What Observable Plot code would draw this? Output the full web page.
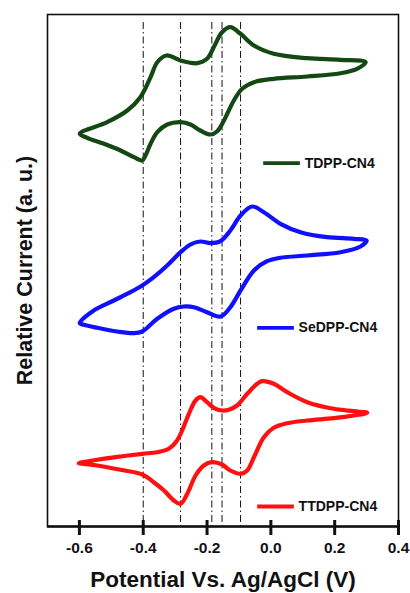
<!DOCTYPE html>
<html>
<head>
<meta charset="utf-8">
<script src="https://cdn.jsdelivr.net/npm/d3@7"></script>
<script src="https://cdn.jsdelivr.net/npm/@observablehq/plot@0.6"></script>
<style>
  html, body { margin: 0; padding: 0; background: #fff; }
  #chart { width: 410px; height: 593px; }
</style>
</head>
<body>
<div id="chart"></div>
<script>
// Potential (V) and relative current (a.u.) traced around each closed CV loop
const tdppV = [-0.599,-0.513,-0.450,-0.409,-0.377,-0.356,-0.327,-0.283,-0.231,-0.200,-0.179,-0.153,-0.127,-0.095,-0.053,0.009,0.114,0.218,0.297,
               0.270,0.218,0.114,0.009,-0.053,-0.090,-0.116,-0.147,-0.168,-0.189,-0.221,-0.252,-0.283,-0.325,-0.356,-0.377,-0.393,-0.403,-0.429,-0.471,-0.523,-0.576];
const tdppI = [392.7,404.3,416,429.3,449.3,464.3,471,466,463.3,467.7,479.3,494.3,499.3,492.7,481,472.7,468.3,466.7,464.3,
               457.7,453.3,450,447.7,444.3,437.7,426,406,395.3,392,396,402,404.3,402,394.3,382.7,371,366,369.3,376,382.7,388.7];

const sedppV = [-0.599,-0.555,-0.492,-0.440,-0.403,-0.367,-0.325,-0.283,-0.252,-0.221,-0.189,-0.158,-0.127,-0.095,-0.059,-0.022,0.030,0.093,0.176,0.260,0.300,
                0.281,0.218,0.114,0.030,-0.012,-0.053,-0.095,-0.127,-0.158,-0.200,-0.241,-0.273,-0.304,-0.356,-0.403,-0.429,-0.482,-0.544,-0.586];
const sedppI = [203.3,216,226,234.3,241,249.3,261,274.3,282,285,283.3,285.3,296,311,320,314.3,302.7,294.3,289.3,287.7,286,
                280,274.3,271,268.7,265.3,256,236,219.3,210,214.3,219.3,220,217.7,207.7,195,193.3,195,198.7,201.7];

const ttdppV = [-0.602,-0.544,-0.471,-0.403,-0.356,-0.320,-0.294,-0.278,-0.257,-0.236,-0.221,-0.200,-0.179,-0.153,-0.132,-0.106,-0.074,-0.043,-0.027,0.009,0.051,0.114,0.197,0.260,0.302,
                0.260,0.197,0.114,0.051,0.009,-0.022,-0.053,-0.074,-0.095,-0.127,-0.153,-0.184,-0.210,-0.236,-0.262,-0.283,-0.304,-0.335,-0.367,-0.403,-0.471,-0.544,-0.586];
const ttdppI = [63.3,66.7,70,72.7,74.3,77.7,86,96,112.7,126,129.3,124.3,118.7,116,116.7,121,132.7,142.7,145.3,142.7,134.3,124.3,117.7,115.3,113.7,
                111,108.3,106,103.3,98.7,89.3,69.3,56,52.7,56,62,64.3,61,51,32.7,22.7,26,36,44.3,52,56.7,61,62.7];

const seriesNames = ["TDPP-CN4", "SeDPP-CN4", "TTDPP-CN4"];
const seriesColors = ["#134813", "#1010ff", "#ff1010"];
// legend anchors (potential, current) for each series label
const legendV = [-0.024, -0.043, -0.043];
const legendI = [363.3, 198.7, 20];

const peakLines = [-0.40, -0.283, -0.185, -0.153, -0.095];
const xTicks = [-0.6, -0.4, -0.2, 0.0, 0.2, 0.4];
const xLabel = "Potential Vs. Ag/AgCl (V)";
const yLabel = "Relative Current (a. u.)";

const toRows = (vs, is, name) => vs.map((v, k) => ({v, i: is[k], name}));
const curves = [
  toRows(tdppV, tdppI, seriesNames[0]),
  toRows(sedppV, sedppI, seriesNames[1]),
  toRows(ttdppV, ttdppI, seriesNames[2])
];
const legendRows = seriesNames.map((name, k) => ({name, color: seriesColors[k], v: legendV[k], i: legendI[k]}));

const font = "'Liberation Sans', Arial, sans-serif";

const chart = Plot.plot({
  width: 410,
  height: 593,
  marginTop: 14,
  marginBottom: 67,
  marginLeft: 47,
  marginRight: 12,
  style: {fontFamily: font, background: "#fff", overflow: "visible"},
  x: {domain: [-0.7, 0.4]},
  y: {domain: [0, 512]},
  marks: [
    Plot.ruleX(peakLines, {x: d => d, stroke: "#111", strokeWidth: 1, strokeDasharray: "7,3,1.5,3", insetTop: 8}),
    ...curves.map((rows, k) => Plot.line(rows, {
      x: "v", y: "i", curve: "catmull-rom-closed",
      stroke: seriesColors[k], strokeWidth: 4.2, strokeLinejoin: "round"
    })),
    Plot.link(legendRows, {x1: "v", x2: d => d.v + 0.115, y1: "i", y2: "i", stroke: "color", strokeWidth: 3.8}),
    Plot.text(legendRows, {x: d => d.v + 0.13, y: "i", text: "name", textAnchor: "start", fontSize: 14, fontWeight: "bold", fill: "#111"}),
    Plot.frame({stroke: "#111", strokeWidth: 1.6}),
    Plot.ruleY([0], {stroke: "#111", strokeWidth: 2.4}),
    Plot.axisX({ticks: xTicks, tickFormat: () => "", tickSize: 9, strokeWidth: 3, stroke: "#111", label: null}),
    Plot.tickX(xTicks, {x: d => d, stroke: "#111", strokeWidth: 3, insetTop: 506}),
    Plot.text(xTicks, {x: d => d, text: d => d.toFixed(1), frameAnchor: "bottom", dy: 26, fontSize: 15.5, fontWeight: "bold", fill: "#111"}),
    Plot.axisY({ticks: [], label: null}),
    Plot.text([xLabel], {text: d => d, frameAnchor: "bottom", dy: 60, fontSize: 22.5, fontWeight: "bold", fill: "#111"}),
    Plot.text([yLabel], {text: d => d, frameAnchor: "left", textAnchor: "middle", dx: -22, rotate: -90, fontSize: 21.5, fontWeight: "bold", fill: "#111"})
  ]
});
document.getElementById("chart").appendChild(chart);
</script>
</body>
</html>
